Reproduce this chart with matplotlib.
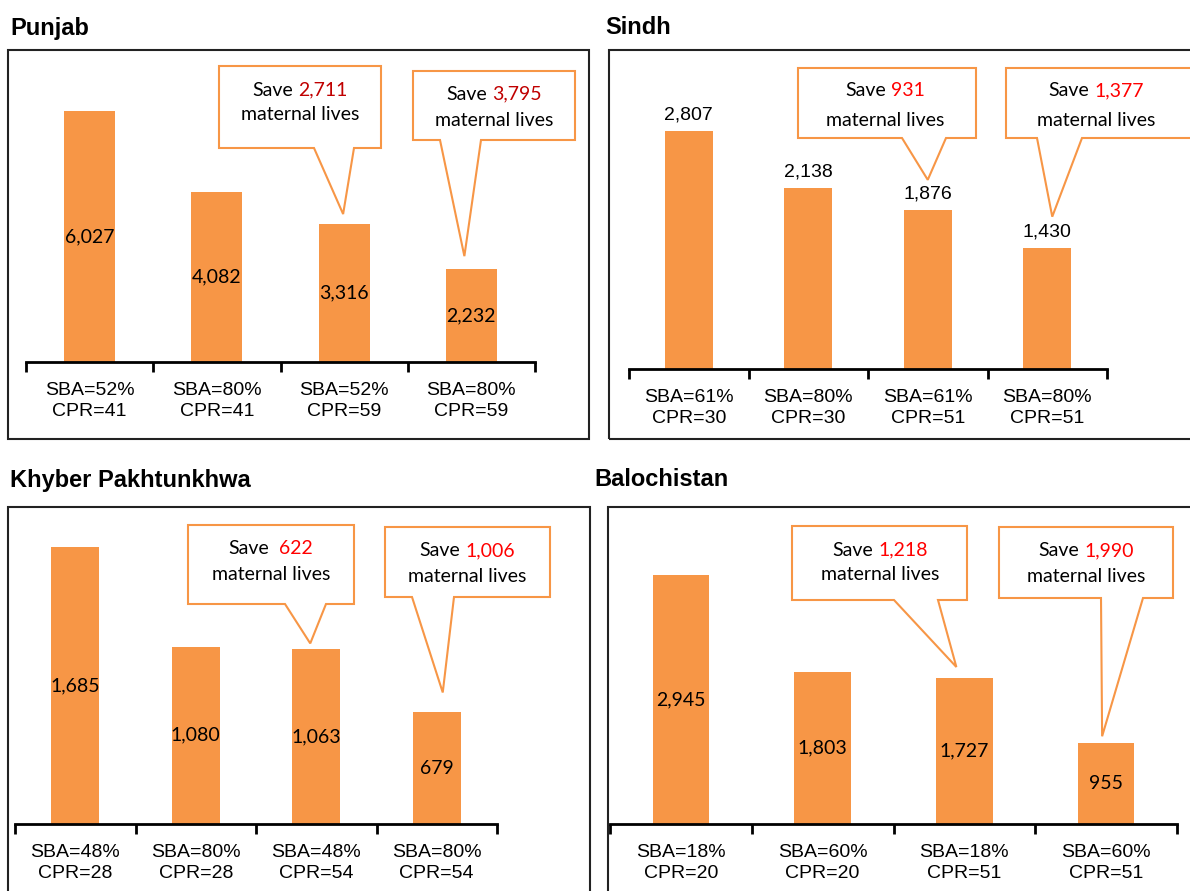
import matplotlib as mpl
mpl.use('Agg')
import matplotlib.pyplot as plt
from matplotlib.patches import Polygon, Rectangle

W, H = 1190, 891
ORANGE = '#F79646'
CAT_FONT = ['Liberation Sans', 'DejaVu Sans']
CAL_FONT = ['Lato', 'DejaVu Sans']

regions = ['Punjab', 'Sindh', 'Khyber Pakhtunkhwa', 'Balochistan']

punjab_labels = ['SBA=52%\nCPR=41', 'SBA=80%\nCPR=41', 'SBA=52%\nCPR=59', 'SBA=80%\nCPR=59']
punjab_deaths = [6027, 4082, 3316, 2232]
punjab_saved = [2711, 3795]

sindh_labels = ['SBA=61%\nCPR=30', 'SBA=80%\nCPR=30', 'SBA=61%\nCPR=51', 'SBA=80%\nCPR=51']
sindh_deaths = [2807, 2138, 1876, 1430]
sindh_saved = [931, 1377]

kp_labels = ['SBA=48%\nCPR=28', 'SBA=80%\nCPR=28', 'SBA=48%\nCPR=54', 'SBA=80%\nCPR=54']
kp_deaths = [1685, 1080, 1063, 679]
kp_saved = [622, 1006]

baloch_labels = ['SBA=18%\nCPR=20', 'SBA=60%\nCPR=20', 'SBA=18%\nCPR=51', 'SBA=60%\nCPR=51']
baloch_deaths = [2945, 1803, 1727, 955]
baloch_saved = [1218, 1990]

# panel geometry in pixels: axis = (left, right, baseline, top)
layout = {
    'Punjab': dict(title=(10, 28), box=(8, 50, 589, 439), axis=(26, 535, 362, 50),
                   ymax=7500, inside=True, red='#C00000',
                   callouts=[dict(rect=(219, 66, 381, 148), base=(314, 354), bar=2, dx=-1, gap=10, tx=300, lines=(90, 115)),
                             dict(rect=(413, 71, 575, 140), base=(440, 481), bar=3, dx=-7, gap=13, tx=494, lines=(94, 120))]),
    'Sindh': dict(title=(605, 28), box=(609, 50, 1200, 439), axis=(629, 1107, 369, 50),
                  ymax=3760, inside=False, red='#FF0000',
                  callouts=[dict(rect=(798, 68, 976, 138), base=(902, 946), bar=2, dx=0, gap=30, tx=885, lines=(91, 120)),
                            dict(rect=(1006, 68, 1200, 138), base=(1037, 1082), bar=3, dx=5, gap=31, tx=1096, lines=(91, 120))]),
    'Khyber Pakhtunkhwa': dict(title=(10, 480), box=(8, 507, 590, 900), axis=(15, 497, 824, 507),
                               ymax=1930, inside=True, red='#FF0000',
                               callouts=[dict(rect=(188, 525, 354, 604), base=(285, 326), bar=2, dx=-6, gap=6, tx=271, lines=(549, 574), pre='Save  '),
                                         dict(rect=(385, 527, 550, 597), base=(412, 454), bar=3, dx=6, gap=20, tx=467, lines=(551, 577))]),
    'Balochistan': dict(title=(594, 479), box=(608, 507, 1200, 900), axis=(610, 1177, 824, 507),
                        ymax=3750, inside=True, red='#FF0000',
                        callouts=[dict(rect=(792, 526, 967, 600), base=(894, 938), bar=2, dx=-8, gap=11, tx=880, lines=(550, 575)),
                                  dict(rect=(999, 527, 1173, 598), base=(1101, 1143), bar=3, dx=-4, gap=7, tx=1086, lines=(551, 576))]),
}

fig = plt.figure(figsize=(W / 100, H / 100), dpi=100)
renderer = fig.canvas.get_renderer()


def fxy(x, y):
    return x / W, 1 - y / H


def save_line(cx, cy, num, red, pre='Save '):
    # black "Save" and red number, centred together as one line
    full = pre + '{:,}'.format(num)
    probe = fig.text(0, 0, full, fontsize=14, family=CAL_FONT)
    w = probe.get_window_extent(renderer).width
    probe.remove()
    left, right = cx - w / 2, cx + w / 2
    fig.text(*fxy(left, cy), pre.strip(), fontsize=14, family=CAL_FONT, ha='left', va='center', zorder=6)
    fig.text(*fxy(right, cy), '{:,}'.format(num), fontsize=14, family=CAL_FONT, color=red,
             ha='right', va='center', zorder=6)


def draw_panel(name, labels, deaths, saved):
    lay = layout[name]
    bx0, by0, bx1, by1 = lay['box']
    fig.add_artist(Rectangle(fxy(bx0, by1), (bx1 - bx0) / W, (by1 - by0) / H, transform=fig.transFigure,
                             fill=False, ec='#222222', lw=1.5, zorder=0))
    fig.text(*fxy(*lay['title']), name, fontsize=17, fontweight='bold', family=CAT_FONT,
             ha='left', va='center')

    x0, x1, base, top = lay['axis']
    ax = fig.add_axes([x0 / W, 1 - base / H, (x1 - x0) / W, (base - top) / H])
    ax.patch.set_visible(False)
    ax.set_xlim(-0.5, 3.5)
    ax.set_ylim(0, lay['ymax'])
    for s in ['top', 'right', 'left']:
        ax.spines[s].set_visible(False)
    ax.spines['bottom'].set_linewidth(2)
    ax.set_yticks([])
    ax.set_xticks([-0.5, 0.5, 1.5, 2.5, 3.5])
    ax.set_xticklabels([])
    ax.tick_params(axis='x', length=7, width=2, direction='out')

    xs = list(range(len(deaths)))
    ax.bar(xs, deaths, width=0.4, color=ORANGE)
    for i, (lab, v) in enumerate(zip(labels, deaths)):
        ax.annotate(lab, xy=(i, 0), xycoords=('data', 'axes fraction'), xytext=(0, -39 * 0.72),
                    textcoords='offset points', ha='center', va='center', linespacing=1.35,
                    fontsize=14, family=CAT_FONT)
        if lay['inside']:
            ax.text(i, v / 2, '{:,}'.format(v), ha='center', va='center', fontsize=14, family=CAL_FONT)
        else:
            ax.annotate('{:,}'.format(v), xy=(i, v), xytext=(0, 16 * 0.72), textcoords='offset points',
                        ha='center', va='center', fontsize=14, family=CAT_FONT)

    # speech-bubble callouts pointing at the last two bars
    for c, num in zip(lay['callouts'], saved):
        i = c['bar']
        px, py = ax.transData.transform((i, deaths[i]))
        tip = (px + c['dx'], H - py - c['gap'])
        rx0, ry0, rx1, ry1 = c['rect']
        b0, b1 = c['base']
        pts = [(rx0, ry0), (rx1, ry0), (rx1, ry1), (b1, ry1), tip, (b0, ry1), (rx0, ry1)]
        fig.add_artist(Polygon([fxy(*p) for p in pts], closed=True, transform=fig.transFigure,
                               fc='white', ec=ORANGE, lw=1.5, zorder=5))
        save_line(c['tx'], c['lines'][0], num, lay['red'], c.get('pre', 'Save '))
        fig.text(*fxy(c['tx'], c['lines'][1]), 'maternal lives', fontsize=14, family=CAL_FONT,
                 ha='center', va='center', zorder=6)


draw_panel('Punjab', punjab_labels, punjab_deaths, punjab_saved)
draw_panel('Sindh', sindh_labels, sindh_deaths, sindh_saved)
draw_panel('Khyber Pakhtunkhwa', kp_labels, kp_deaths, kp_saved)
draw_panel('Balochistan', baloch_labels, baloch_deaths, baloch_saved)

fig.savefig('out.png', dpi=100)
